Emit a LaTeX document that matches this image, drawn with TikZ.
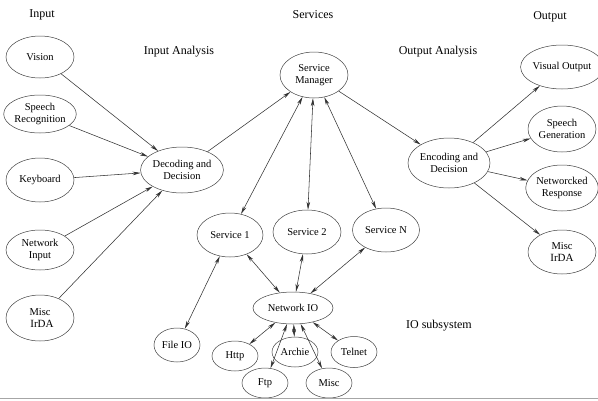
\documentclass[tikz,border=0pt]{standalone}
\usepackage{fontspec}
\setmainfont{Liberation Serif}
\usetikzlibrary{shapes.geometric,arrows.meta,positioning}
\tikzset{
    >={Stealth[length=8pt,width=3.6pt,inset=2.5pt]},
}

\begin{document}
\begin{tikzpicture}[x=1pt,y=-1pt,
  module/.style={ellipse, draw=black!75, line width=0.5pt, inner sep=0pt, align=center, font=\fontsize{10.5}{11.5}\selectfont, minimum width=68pt, minimum height=44pt},
  small/.style={module, minimum width=46pt, minimum height=30pt},
  heading/.style={font=\fontsize{12}{14}\selectfont},
  link/.style={draw=black!80, line width=0.55pt}]
  \useasboundingbox (0,0) rectangle (598,400);

  % TITULOS
  \node [heading] (inputtitle) at (42,15) {Input};
  \node [heading] (servicestitle) at (313,15) {Services};
  \node [heading] (outputtitle) at (550,17) {Output};
  \node [heading] (inanatitle) at (179,52) {Input Analysis};
  \node [heading] (outanatitle) at (438,52) {Output Analysis};
  \node [heading] (iotitle) at (439,326) {IO subsystem};

  % ENTRADAS
  \node [module, minimum height=42pt] (vision) at (40,57) {Vision};
  \node [module, minimum height=38pt] (speechrec) at (40,114) {Speech\\Recognition};
  \node [module] (keyboard) at (40,180) {Keyboard};
  \node [module, minimum height=40pt] (netinput) at (40,250) {Network\\Input};
  \node [module, minimum height=46pt] (miscin) at (40,318) {Misc\\\hspace*{4pt}\fontsize{11}{12}\selectfont IrDA};

  % ANALISIS Y SERVICIOS
  \node [module, minimum height=46pt] (decoding) at (182,170) {Decoding and\\Decision};
  \node [module, minimum height=46pt] (manager) at (314,75) {Service\\Manager};
  \node [module, minimum height=50pt] (encoding) at (449,163) {Encoding and\\Decision};
  \node [module, minimum width=66pt] (service1) at (230,235) {Service 1};
  \node [module] (service2) at (307,232) {Service 2};
  \node [module, minimum width=67pt] (servicen) at (386,230) {Service N};

  % SALIDAS
  \node [module, minimum width=70pt] (visual) at (562,67) {Visual Output};
  \node [module, minimum height=46pt] (speechgen) at (562,129) {Speech\\Generation};
  \node [module, minimum height=46pt] (netresp) at (562,188) {Networcked\\Response};
  \node [module] (miscout) at (562,252) {Misc\\\fontsize{11}{12}\selectfont IrDA};

  % SUBSISTEMA IO
  \node [module, minimum width=80pt, minimum height=32pt] (netio) at (293,308) {Network IO};
  \node [small, minimum height=34pt] (fileio) at (177,345) {File IO};
  \node [small] (http) at (235,356) {Http};
  \node [small] (ftp) at (265,383) {Ftp};
  \node [small] (archie) at (295,352) {Archie};
  \node [small] (miscio) at (329,383) {Misc};
  \node [small, minimum height=31pt] (telnet) at (354,352) {Telnet};

  % CONEXIONES
  \draw [link,->] (vision) -- (decoding);
  \draw [link,->] (speechrec) -- (decoding);
  \draw [link,->] (keyboard) -- (decoding);
  \draw [link,->] (netinput) -- (decoding);
  \draw [link,->] (miscin) -- (decoding);
  \draw [link,->] (decoding) -- (manager);
  \draw [link,<->] (manager) -- (service1);
  \draw [link,<->] (manager) -- (service2);
  \draw [link,<->] (manager) -- (servicen);
  \draw [link,->] (manager) -- (encoding);
  \draw [link,->] (encoding) -- (visual);
  \draw [link,->] (encoding) -- (speechgen);
  \draw [link,->] (encoding) -- (netresp);
  \draw [link,->] (encoding) -- (miscout);
  \draw [link,<->] (service1) -- (fileio);
  \draw [link,<->] (service1) -- (netio);
  \draw [link,<->] (service2) -- (netio);
  \draw [link,<->] (servicen) -- (netio);
  \draw [link,<->] (netio) -- (http);
  \draw [link,<->] (netio) -- (ftp);
  \draw [link,<->] (netio) -- (archie);
  \draw [link,<->] (netio) -- (miscio);
  \draw [link,<->] (netio) -- (telnet);

  % BORDE INFERIOR
  \draw [black!35, line width=1pt] (0,398.5) -- (598,398.5);
\end{tikzpicture}
\end{document}
